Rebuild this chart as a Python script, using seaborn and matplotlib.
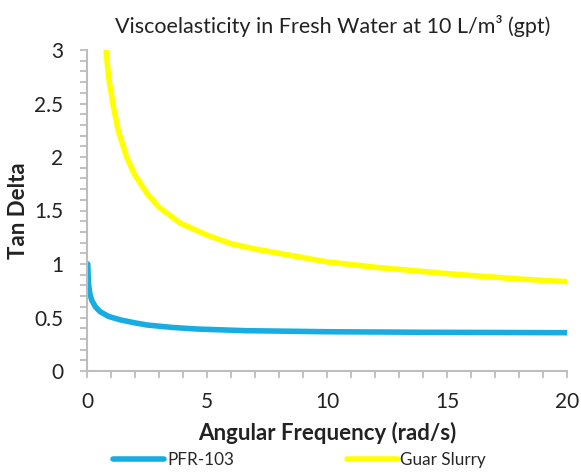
import numpy as np
import pandas as pd
import seaborn as sns
import matplotlib.pyplot as plt
from matplotlib.ticker import MultipleLocator

# values
pfr_freq = [0.03, 0.06, 0.12, 0.2, 0.35, 0.54, 0.9, 1.4, 2.0, 2.5, 3.5, 4.6, 6.6, 10.0, 14.0, 20.0]
pfr_tan = [1.0, 0.82, 0.72, 0.66, 0.60, 0.555, 0.51, 0.477, 0.45, 0.43, 0.408, 0.392, 0.377, 0.367, 0.362, 0.358]
guar_freq = [0.79, 0.9, 1.1, 1.3, 1.65, 2.0, 2.5, 3.0, 3.9, 5.0, 6.0, 7.0, 8.0, 10.0, 12.0, 15.0, 18.0, 20.0]
guar_tan = [3.0, 2.75, 2.47, 2.25, 2.0, 1.83, 1.66, 1.53, 1.38, 1.27, 1.19, 1.14, 1.10, 1.02, 0.97, 0.91, 0.86, 0.835]
series = ["PFR-103", "Guar Slurry"]
colors = ["#17ade3", "#ffff00"]

df = pd.concat([
    pd.DataFrame({"freq": pfr_freq, "tan": pfr_tan, "series": series[0]}),
    pd.DataFrame({"freq": guar_freq, "tan": guar_tan, "series": series[1]}),
])

sns.set_style("white", {"xtick.bottom": True, "ytick.left": True,
                        "xtick.color": "#bdbdbd", "ytick.color": "#bdbdbd"})
plt.rcParams["font.family"] = ["Lato", "DejaVu Sans"]
plt.rcParams.update({
    "xtick.major.size": 5, "xtick.minor.size": 5,
    "ytick.major.size": 5, "ytick.minor.size": 5,
    "xtick.major.width": 1.3, "xtick.minor.width": 1.3,
    "ytick.major.width": 1.3, "ytick.minor.width": 1.3,
    "xtick.major.pad": 10, "ytick.major.pad": 12,
    "xtick.labelcolor": "#222222", "ytick.labelcolor": "#222222",
})

fig, ax = plt.subplots(figsize=(5.81, 4.76), dpi=100)
fig.subplots_adjust(left=87 / 581, right=567 / 581, top=1 - 50 / 476, bottom=1 - 371 / 476)

sns.lineplot(data=df, x="freq", y="tan", hue="series", hue_order=series,
             palette=colors, linewidth=4, sort=True, estimator=None, ax=ax)

ax.set_xlim(0, 20)
ax.set_ylim(0, 3)
ax.xaxis.set_major_locator(MultipleLocator(5))
ax.xaxis.set_minor_locator(MultipleLocator(1))
ax.yaxis.set_major_locator(MultipleLocator(0.5))
ax.yaxis.set_minor_locator(MultipleLocator(0.1))
ax.set_yticks([0, 0.5, 1, 1.5, 2, 2.5, 3])
ax.set_yticklabels(["0", "0.5", "1", "1.5", "2", "2.5", "3"])
ax.tick_params(which="both", direction="out", labelsize=15)
for s in ["top", "right"]:
    ax.spines[s].set_visible(False)
for s in ["left", "bottom"]:
    ax.spines[s].set_color("#bdbdbd")
    ax.spines[s].set_linewidth(1.5)

ax.set_title("Viscoelasticity in Fresh Water at 10 L/m³ (gpt)", fontsize=15.5,
             color="#222222", pad=12, x=0.5125)
ax.set_xlabel("Angular Frequency (rad/s)", fontsize=16, fontweight="bold",
              color="#222222", labelpad=7.5)
ax.set_ylabel("Tan Delta", fontsize=16, fontweight="bold", color="#222222")
ax.yaxis.set_label_coords(-0.12, 0.5)

ax.legend(title=None, loc="center", bbox_to_anchor=(0.443, -0.277), ncol=2,
          frameon=False, fontsize=12.3, handlelength=3.0, handletextpad=0.15,
          columnspacing=6.6)

fig.savefig("out.png", dpi=100)
